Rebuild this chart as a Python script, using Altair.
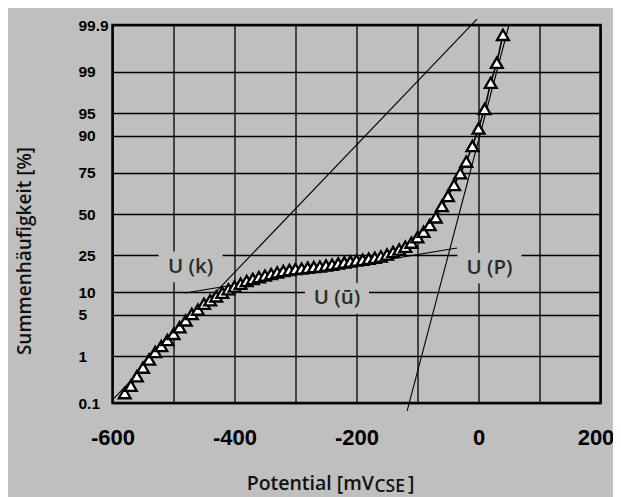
import altair as alt
import pandas as pd
from statistics import NormalDist

# ---- data -------------------------------------------------------------------
potential_mv = [-580, -570, -560, -550, -540, -530, -520, -510, -500, -490,
                -480, -470, -460, -450, -440, -430, -420, -410, -400, -390,
                -380, -370, -360, -350, -340, -330, -320, -310, -300, -290,
                -280, -270, -260, -250, -240, -230, -220, -210, -200, -190,
                -180, -170, -160, -150, -140, -130, -120, -110, -100, -90,
                -80, -70, -60, -50, -40, -30, -20, -10, 0, 10, 20, 30, 40]
cum_pct = [0.17, 0.25, 0.40, 0.60, 0.87, 1.2, 1.55, 1.97, 2.5, 3.2,
           4.1, 5.1, 5.9, 7.1, 7.9, 8.9, 9.9, 10.9, 11.8, 12.7,
           13.7, 14.4, 15.1, 15.7, 16.3, 17.0, 17.6, 18.0, 18.4, 18.6,
           19.0, 19.3, 19.5, 20.0, 20.4, 20.9, 21.4, 21.9, 22.4, 22.7,
           23.2, 23.7, 24.4, 25.4, 26.7, 28.1, 29.6, 32.0, 35.2, 38.6,
           42.9, 47.8, 55.2, 61.6, 68.2, 74.7, 80.4, 86.7, 91.9, 95.7,
           98.4, 99.33, 99.83]

tick_pct = [0.1, 1, 5, 10, 25, 50, 75, 90, 95, 99, 99.9]
tick_labels = ["0.1", "1", "5", "10", "25", "50", "75", "90", "95", "99", "99.9"]
x_ticks = [-600, -500, -400, -300, -200, -100, 0, 100, 200]
x_labelled = [-600, -400, -200, 0, 200]

fit_names = ["U (k)", "U (k)", "U (ū)", "U (ū)", "U (P)", "U (P)"]
fit_mv = [-600, -2.5, -481, -35, -117, 50]
fit_pct = [0.118, 99.928, 9.84, 28.9, 0.064, 99.9]

label_text = ["U (k)", "U (ū)", "U (P)"]
label_mv = [-472, -232, 18]
label_pct = [19.4, 8.4, 18.8]

# ---- normal probability (probit) transform ----------------------------------
nd = NormalDist()


def probit(p):
    return nd.inv_cdf(p / 100.0)


df_data = pd.DataFrame({"mv": potential_mv, "pct": cum_pct,
                        "z": [probit(p) for p in cum_pct]})
df_fit = pd.DataFrame({"name": fit_names, "mv": fit_mv,
                       "z": [probit(p) for p in fit_pct]})
df_lab = pd.DataFrame({"label": label_text, "mv": label_mv,
                       "z": [probit(p) for p in label_pct]})

tick_z = [probit(p) for p in tick_pct]
zmin, zmax = tick_z[0], tick_z[-1]

y_label_expr = "".join(
    f"abs(datum.value - ({z:.5f})) < 0.001 ? '{lab}' : "
    for z, lab in zip(tick_z, tick_labels)
) + "''"
x_label_expr = "indexof([" + ",".join(str(v) for v in x_labelled) + \
    "], datum.value) >= 0 ? ('' + datum.value) : ''"

BG = "#bfbfbf"

x_axis = alt.Axis(values=x_ticks, labelExpr=x_label_expr, title=None,
                  grid=True, gridColor="black", gridWidth=1.3, gridOpacity=1,
                  domain=False, ticks=False, tickSize=0,
                  labelFont="Liberation Sans", labelFontWeight="bold",
                  labelFontSize=22, labelColor="black", labelPadding=24,
                  labelOffset={"condition": {"test": "datum.value == 200",
                                             "value": -5},
                               "value": 0},
                  labelFlush=False, labelOverlap=False)
y_axis = alt.Axis(values=tick_z, labelExpr=y_label_expr, title=None,
                  grid=True, gridColor="black", gridWidth=1.3, gridOpacity=1,
                  domain=False, ticks=False, tickSize=0,
                  labelFont="Liberation Sans", labelFontWeight="bold",
                  labelFontSize=15.5, labelColor="black", labelPadding=34.5,
                  labelAlign="left", labelBaseline="middle",
                  labelFlush=False, labelOverlap=False)

x_enc = alt.X("mv:Q", scale=alt.Scale(domain=[-600, 200], nice=False, zero=False),
              axis=x_axis)
y_enc = alt.Y("z:Q", scale=alt.Scale(domain=[zmin, zmax], nice=False, zero=False),
              axis=y_axis)

boxes = alt.Chart(df_lab).mark_point(
    shape="M-1,-0.48L1,-0.48L1,0.48L-1,0.48Z", size=4096, filled=True,
    fill=BG, strokeWidth=0, opacity=1
).encode(x=x_enc, y=y_enc)

labels = alt.Chart(df_lab).mark_text(
    font="Open Sans", fontSize=20.5, fontWeight=600, color="#2a2a2a",
    align="center", baseline="middle"
).encode(x=x_enc, y=y_enc, text="label:N")

fits = alt.Chart(df_fit).mark_line(color="black", strokeWidth=1.1).encode(
    x=x_enc, y=y_enc, detail="name:N")

data_line = alt.Chart(df_data).mark_line(color="black", strokeWidth=1.6).encode(
    x=x_enc, y=y_enc)

tri = alt.Chart(df_data).mark_point(
    shape="triangle-up", filled=True, fill="white", stroke="black",
    strokeWidth=2.3, size=140, opacity=1
).encode(x=x_enc, y=y_enc)

one = pd.DataFrame({"a": [0]})
title_font = dict(font="Open Sans", fontWeight=600, color="#111111")
ytitle = alt.Chart(one).mark_text(
    text="Summenhäufigkeit [%]", fontSize=19, angle=270, align="center",
    baseline="middle", **title_font
).encode(x=alt.value(-87.5), y=alt.value(226))
xtitle_main = alt.Chart(one).mark_text(
    text="Potential [mV", fontSize=19.5, align="right", baseline="alphabetic",
    **title_font
).encode(x=alt.value(261.5), y=alt.value(465))
xtitle_sub = alt.Chart(one).mark_text(
    text="CSE", fontSize=17.5, align="left", baseline="alphabetic", **title_font
).encode(x=alt.value(262), y=alt.value(467))
xtitle_end = alt.Chart(one).mark_text(
    text="]", fontSize=19.5, align="left", baseline="alphabetic", **title_font
).encode(x=alt.value(295.5), y=alt.value(465))

chart = alt.layer(
    boxes, labels, fits, data_line, tri,
    ytitle, xtitle_main, xtitle_sub, xtitle_end
).properties(
    width=488, height=378,
    autosize=alt.AutoSizeParams(type="none"),
    padding={"left": 104.5, "top": 17, "right": 12.5, "bottom": 94},
    background=BG,
).configure_view(stroke="black", strokeWidth=2.5)

chart.save("out.html", embed_options={"renderer": "svg", "actions": False})
